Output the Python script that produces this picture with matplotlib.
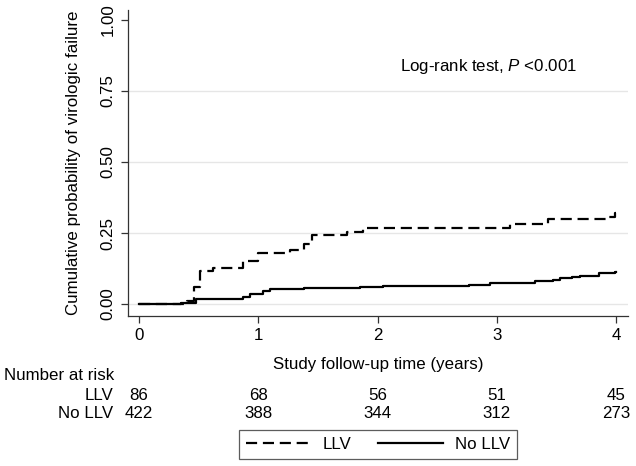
import matplotlib

matplotlib.use('Agg')

import matplotlib.pyplot as plt
from matplotlib.lines import Line2D
from matplotlib.transforms import blended_transform_factory

# Kaplan-Meier style cumulative failure curves
llv_times = [0, 0.40, 0.46, 0.51, 0.62, 0.87, 1.00, 1.27, 1.38, 1.45, 1.74, 1.88,
             3.11, 3.43, 3.93, 3.99, 4.00]
llv_prob = [0, 0.010, 0.060, 0.116, 0.127, 0.150, 0.180, 0.190, 0.210, 0.243, 0.253,
            0.268, 0.283, 0.298, 0.306, 0.320, 0.320]

nollv_times = [0, 0.35, 0.48, 0.87, 0.93, 1.04, 1.10, 1.38, 1.85, 2.05, 2.77, 2.94,
               3.32, 3.47, 3.53, 3.63, 3.70, 3.86, 3.99, 4.00]
nollv_prob = [0, 0.005, 0.018, 0.025, 0.035, 0.045, 0.052, 0.056, 0.061, 0.064, 0.067,
              0.073, 0.080, 0.086, 0.090, 0.097, 0.100, 0.108, 0.113, 0.113]

risk_times = [0, 1, 2, 3, 4]
risk_llv = [86, 68, 56, 51, 45]
risk_nollv = [422, 388, 344, 312, 273]

y_ticks = [0, 0.25, 0.5, 0.75, 1.0]
y_ticklabels = ['0.00', '0.25', '0.50', '0.75', '1.00']

plt.rcParams.update({'font.family': 'Liberation Sans',
                     'font.size': 12.2,
                     'mathtext.fontset': 'custom',
                     'mathtext.it': 'Liberation Sans:italic',
                     'mathtext.rm': 'Liberation Sans'})

fig = plt.figure(figsize=(6.36, 4.66), dpi=100)
ax = fig.add_axes([128 / 636, 1 - 316 / 466, 500 / 636, 306 / 466])

for y in [0, 0.25, 0.5, 0.75]:
    ax.axhline(y, color='#e6e6e6', lw=1.0, zorder=0)

ax.step(llv_times, llv_prob, where='post', color='black', lw=1.6,
        linestyle=(0, (5, 2.6)), label='LLV')
ax.step(nollv_times, nollv_prob, where='post', color='black', lw=1.6, label='No LLV')

ax.set_xlim(-0.092, 4.1)
ax.set_ylim(-0.042, 1.035)
ax.set_xticks(risk_times)
ax.set_yticks(y_ticks)
ax.set_yticklabels(y_ticklabels, rotation=90, va='center')
ax.tick_params(direction='out', length=5, width=0.9, color='#333333', pad=4)
for side in ['top', 'right']:
    ax.spines[side].set_visible(False)
for side in ['left', 'bottom']:
    ax.spines[side].set_linewidth(0.9)
    ax.spines[side].set_color('#333333')

ax.set_ylabel('Cumulative probability of virologic failure', labelpad=14)
ax.set_xlabel('Study follow-up time (years)', labelpad=10)

fig.text(400 / 636, 1 - 67 / 466, r'Log-rank test, $\it{P}$ <0.001', va='center', ha='left')

# number at risk table
trans = blended_transform_factory(ax.transData, fig.transFigure)
fig.text(4 / 636, 1 - 376 / 466, 'Number at risk', va='center', ha='left')
fig.text(113 / 636, 1 - 395 / 466, 'LLV', va='center', ha='right')
fig.text(113 / 636, 1 - 414 / 466, 'No LLV', va='center', ha='right')
for t, a, b in zip(risk_times, risk_llv, risk_nollv):
    ax.text(t, 1 - 395 / 466, str(a), transform=trans, ha='center', va='center')
    ax.text(t, 1 - 414 / 466, str(b), transform=trans, ha='center', va='center')

handles = [Line2D([], [], color='black', lw=1.6, linestyle=(0, (5, 2.6))),
           Line2D([], [], color='black', lw=1.6)]
leg = fig.legend(handles, ['LLV', 'No LLV'], loc='center',
                 bbox_to_anchor=(378 / 636, 1 - 444.5 / 466), ncol=2,
                 frameon=True, fancybox=False, edgecolor='#333333',
                 handlelength=3.8, handletextpad=0.7, columnspacing=1.6,
                 borderpad=0.4)
leg.get_frame().set_linewidth(0.9)

fig.savefig('out.png', dpi=100)
